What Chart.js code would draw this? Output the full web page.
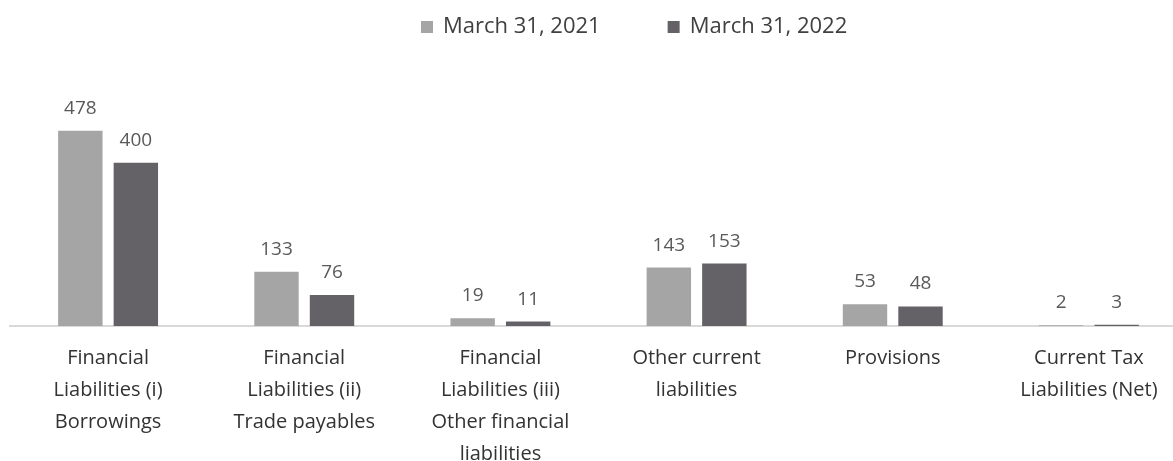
<!DOCTYPE html>
<html><head><meta charset="utf-8">
<script src="https://cdn.jsdelivr.net/npm/chart.js@4"></script>
<style>
html,body{margin:0;padding:0;background:#fff;overflow:hidden;width:1173px;height:461px}
#wrap{position:absolute;left:0;top:0;width:1190px;height:488px}
</style></head>
<body><div id="wrap"><canvas id="c"></canvas></div>
<script>
const categories = [
  ["Financial", "Liabilities (i)", "Borrowings"],
  ["Financial", "Liabilities (ii)", "Trade payables"],
  ["Financial", "Liabilities (iii)", "Other financial", "liabilities"],
  ["Other current", "liabilities"],
  ["Provisions"],
  ["Current Tax", "Liabilities (Net)"]
];
const seriesNames = ["March 31, 2021", "March 31, 2022"];
const values2021 = [478, 133, 19, 143, 53, 2];
const values2022 = [400, 76, 11, 153, 48, 3];
const yMin = 0;
const yMax = 600;

const FONT = '"Open Sans", "Noto Sans", sans-serif';

const legendPlugin = {
  id: 'topLegend',
  afterDraw(chart) {
    const ctx = chart.ctx;
    ctx.save();
    ctx.font = '22px ' + FONT;
    ctx.textBaseline = 'middle';
    ctx.textAlign = 'left';
    let x = 421;
    const y = 27;
    chart.data.datasets.forEach(ds => {
      ctx.fillStyle = ds.backgroundColor;
      ctx.fillRect(x, y - 6, 12, 12);
      x += 12 + 10;
      ctx.fillStyle = '#404040';
      ctx.fillText(ds.label, x, y);
      x += ctx.measureText(ds.label).width + 67;
    });
    ctx.restore();
  }
};

const valueLabels = {
  id: 'valueLabels',
  afterDatasetsDraw(chart) {
    const ctx = chart.ctx;
    ctx.save();
    ctx.font = '19px ' + FONT;
    ctx.fillStyle = '#595959';
    ctx.textAlign = 'center';
    ctx.textBaseline = 'alphabetic';
    chart.data.datasets.forEach((ds, di) => {
      const meta = chart.getDatasetMeta(di);
      meta.data.forEach((bar, i) => {
        ctx.fillText(String(ds.data[i]), bar.x, bar.y - 17);
      });
    });
    ctx.restore();
  }
};

new Chart(document.getElementById('c'), {
  type: 'bar',
  data: {
    labels: categories,
    datasets: [
      { label: seriesNames[0], data: values2021, backgroundColor: '#A5A5A5', borderWidth: 0,
        categoryPercentage: 0.566, barPercentage: 0.8 },
      { label: seriesNames[1], data: values2022, backgroundColor: '#646266', borderWidth: 0,
        categoryPercentage: 0.566, barPercentage: 0.8 }
    ]
  },
  options: {
    responsive: true,
    maintainAspectRatio: false,
    animation: false,
    events: [],
    layout: { padding: { top: 81, left: 10, right: 3, bottom: 2 } },
    plugins: { legend: { display: false }, tooltip: { enabled: false }, title: { display: false } },
    scales: {
      x: {
        grid: { display: false, drawTicks: false },
        border: { display: true, color: '#D9D9D9', width: 2 },
        ticks: {
          padding: 16, color: '#333333', maxRotation: 0, autoSkip: false,
          font: { family: FONT, size: 20, lineHeight: '32px' }
        }
      },
      y: { display: false, min: yMin, max: yMax }
    }
  },
  plugins: [legendPlugin, valueLabels]
});
</script>
</body></html>
